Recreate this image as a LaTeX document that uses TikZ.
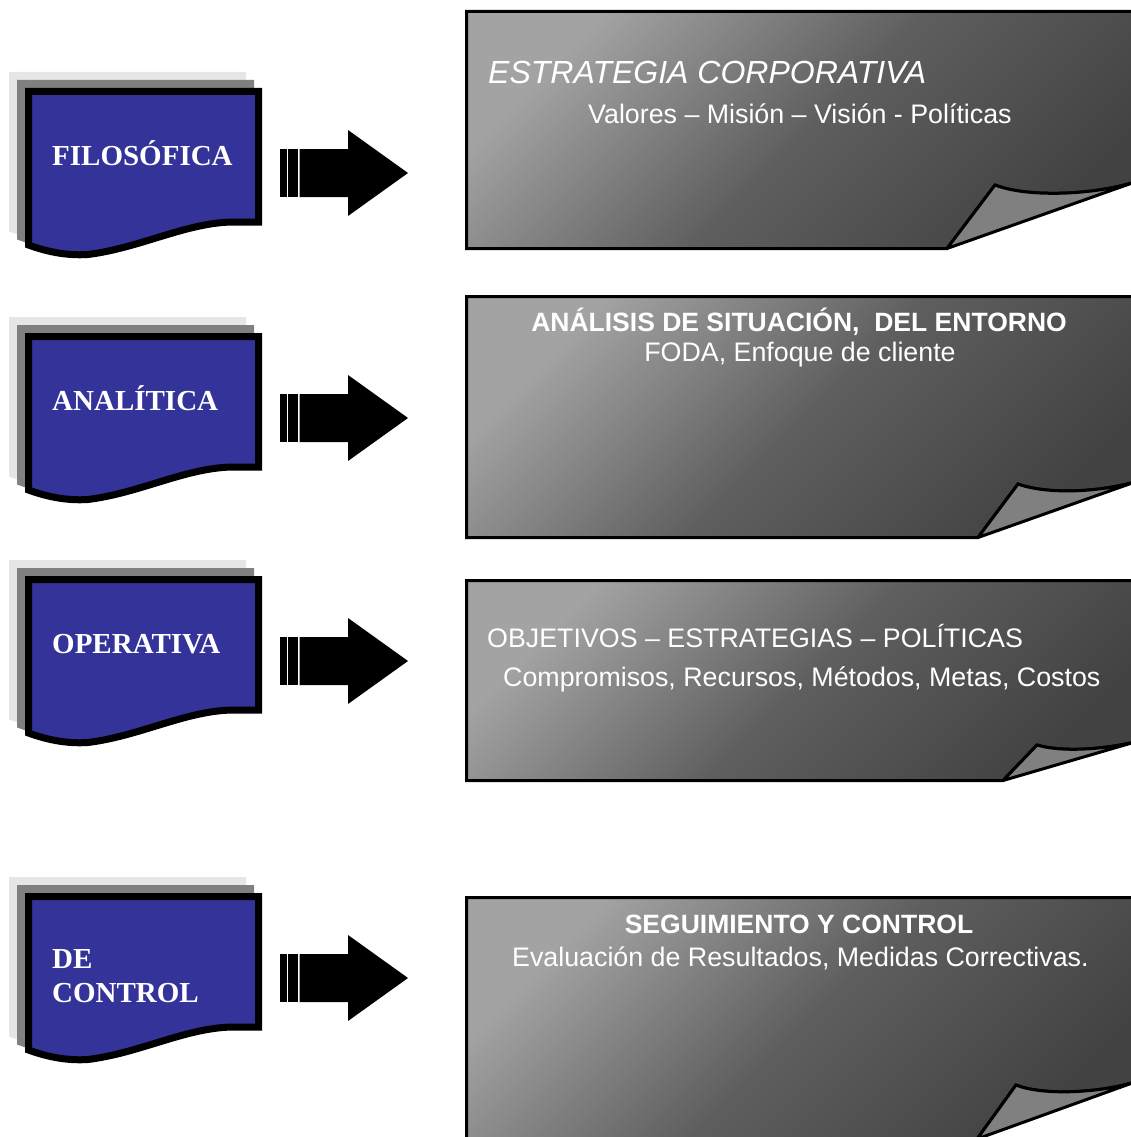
\documentclass[tikz,border=0pt]{standalone}
\usepackage{fontspec}
\setmainfont{Liberation Serif}
\setsansfont{Liberation Sans}
\usetikzlibrary{calc}

\definecolor{docblue}{HTML}{333399}
\definecolor{shadelight}{HTML}{E6E6E6}
\definecolor{shadedark}{HTML}{808080}
\definecolor{flapgray}{HTML}{808080}

% outline of the wavy document box (first row)
\newcommand\docpath{(28.5,91.5) -- (258.5,91.5) -- (258.5,222) -- (232,222)
  .. controls (185,223) and (140,248) .. (88,254.5)
  .. controls (65,256) and (45,251) .. (28.5,245) -- cycle}

\tikzset{
  docshade/.style={fill=#1, draw=#1, line width=7pt},
  docbox/.style={fill=docblue, draw=black, line width=7pt},
  lbl/.style={font=\fontsize{29}{34}\selectfont\bfseries, text=white, inner sep=0pt, align=left},
  panel/.style={draw=black, line width=3pt, top color=black!36, bottom color=black!74, middle color=black!63, shading angle=45},
  flap/.style={fill=flapgray, draw=black, line width=3pt, line join=round},
  ptext/.style={font=\sffamily\fontsize{26.8}{30}\selectfont, text=white, inner sep=0pt}
}

\begin{document}
\begin{tikzpicture}[x=1pt, y=-1pt]
\useasboundingbox (0,0) rectangle (1131,1137);
\clip (0,0) rectangle (1131,1137);

% left boxes and block arrows
\foreach \dy in {0,245,488,805} {
  \begin{scope}[shift={(0,\dy)}]
    \draw[docshade=shadelight, shift={(-16,-16)}] \docpath;
    \draw[docshade=shadedark, shift={(-8,-8)}] \docpath;
    \draw[docbox] \docpath;
    \fill (280,149) rectangle (286.7,197);
    \fill (287.7,149) rectangle (298.3,197);
    \fill (299.7,149) -- (348,149) -- (348,130) -- (408,173) -- (348,216) -- (348,197) -- (299.7,197) -- cycle;
  \end{scope}
}

\node[lbl, anchor=base west] (filo) at (52,165) {FILOSÓFICA};
\node[lbl, anchor=base west] (anal) at (52,410) {ANALÍTICA};
\node[lbl, anchor=base west] (oper) at (52,653) {OPERATIVA};
\node[lbl, anchor=west] (ctrl) at (52,976.5) {DE\\CONTROL};

% right panels with curled corner
\draw[panel] (466.5,11.5) -- (1150,11.5) -- (1150,182) -- (1135,182)
  .. controls (1090,196) and (1025,197) .. (995,185) -- (947,248.5) -- (466.5,248.5) -- cycle;
\draw[flap] (947,248.5) -- (995,185) .. controls (1025,197) and (1090,196) .. (1135,182) -- cycle;

\draw[panel] (466.5,296.5) -- (1150,296.5) -- (1150,482) -- (1135,482)
  .. controls (1095,493) and (1045,494) .. (1018,484) -- (978,537.5) -- (466.5,537.5) -- cycle;
\draw[flap] (978,537.5) -- (1018,484) .. controls (1045,494) and (1095,493) .. (1135,482) -- cycle;

\draw[panel] (466.5,580.5) -- (1150,580.5) -- (1150,742) -- (1135,742)
  .. controls (1100,750) and (1060,752) .. (1037,745) -- (1003,780.5) -- (466.5,780.5) -- cycle;
\draw[flap] (1003,780.5) -- (1037,745) .. controls (1060,752) and (1100,750) .. (1135,742) -- cycle;

\draw[panel] (466.5,897.5) -- (1150,897.5) -- (1150,1082) -- (1135,1082)
  .. controls (1095,1094) and (1040,1095) .. (1016,1085) -- (977,1139) -- (466.5,1139) -- cycle;
\draw[flap] (977,1139) -- (1016,1085) .. controls (1040,1095) and (1095,1094) .. (1135,1082) -- cycle;

% panel texts
\node[ptext, font=\sffamily\itshape\fontsize{32}{34}\selectfont, anchor=base west] (estr) at (488,84) {ESTRATEGIA CORPORATIVA};
\node[ptext, anchor=base west] (valo) at (588,124) {Valores – Misión – Visión - Políticas};
\node[ptext, font=\sffamily\bfseries\fontsize{26.5}{30}\selectfont, anchor=base] (anali) at (799,331) {ANÁLISIS DE SITUACIÓN,\ \ DEL ENTORNO};
\node[ptext, anchor=base] (foda) at (800,361) {FODA, Enfoque de cliente};
\node[ptext, anchor=base west] (obje) at (487,647) {OBJETIVOS – ESTRATEGIAS – POLÍTICAS};
\node[ptext, anchor=base west] (comp) at (503,686) {Compromisos, Recursos, Métodos, Metas, Costos};
\node[ptext, font=\sffamily\bfseries\fontsize{26.5}{30}\selectfont, anchor=base] (segu) at (799,933) {SEGUIMIENTO Y CONTROL};
\node[ptext, anchor=base west] (eval) at (512,966) {Evaluación de Resultados, Medidas Correctivas.};
\end{tikzpicture}
\end{document}
